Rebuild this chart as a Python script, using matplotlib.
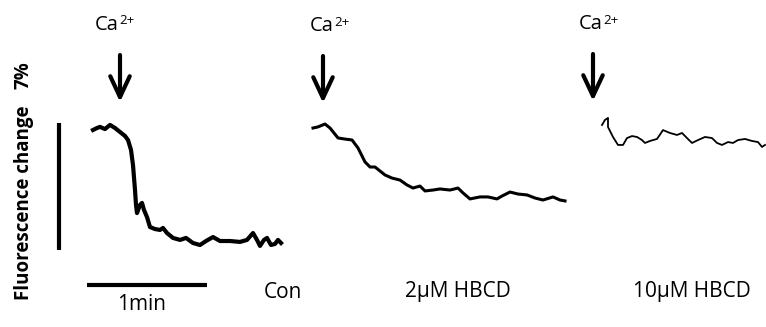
import matplotlib
matplotlib.use("Agg")
import matplotlib.pyplot as plt

plt.rcParams['font.family'] = ['Open Sans', 'DejaVu Sans']

# traces: time (s) relative to Ca2+ addition, fluorescence change (%) relative to first point
con_t = [-13.5, -11.5, -10, -7.5, -5, -2.5, 0, 2.5, 4, 5.5, 6.5, 7.5, 8, 8.5, 10, 11, 12,
         13.5, 15, 17.5, 20, 21.5, 23.5, 26.5, 30, 33, 36.5, 40, 43, 46.5, 50, 55, 60,
         63.5, 66.5, 68.5, 70, 72, 73.5, 75.5, 77.5, 79, 80.5]
con_f = [-0.11, 0.0, 0.06, -0.06, 0.17, 0.0, -0.22, -0.44, -0.66, -1.21, -2.04, -3.42,
         -4.24, -4.69, -4.24, -4.13, -4.52, -4.91, -5.46, -5.57, -5.62, -5.51, -5.79,
         -6.06, -6.17, -6.06, -6.34, -6.45, -6.23, -6.01, -6.23, -6.23, -6.28, -6.17,
         -5.79, -6.17, -6.50, -6.17, -6.06, -6.45, -6.39, -6.17, -6.34]

hb2_t = [-5, -2.5, 1, 3.5, 7.5, 11, 14.5, 17.5, 21, 23.5, 26, 31, 34.5, 38.5, 42, 45,
         48.5, 51, 55, 58.5, 63.5, 67.5, 70, 73.5, 78.5, 82.5, 87, 89.5, 93.5,
         97.5, 102, 106, 110, 115, 118.5, 121]
hb2_f = [0.0, 0.06, 0.22, 0.0, -0.55, -0.61, -0.66, -1.10, -1.87, -2.15, -2.15, -2.59,
         -2.76, -2.87, -3.14, -3.31, -3.20, -3.47, -3.42, -3.36, -3.42, -3.31,
         -3.58, -3.91, -3.80, -3.80, -3.91, -3.75, -3.53, -3.64, -3.69, -3.86, -3.97,
         -3.80, -3.97, -4.02]

hb10_t = [4.5, 6, 7.5, 7.5, 10, 12.5, 15, 17, 19.5, 22, 24.5, 26, 28.5, 32, 35, 38.5,
          42, 44.5, 47, 49.5, 52.5, 56, 59.5, 62, 64.5, 67.5, 70, 72.5, 76, 79.5, 82.5,
          84.5, 86]
hb10_f = [0.0, 0.28, 0.39, -0.11, -0.66, -1.10, -1.10, -0.72, -0.61, -0.66, -0.83, -0.99,
          -0.88, -0.77, -0.28, -0.44, -0.55, -0.44, -0.72, -0.99, -0.83, -0.66, -0.72,
          -0.99, -1.10, -0.94, -0.99, -0.83, -0.77, -0.88, -0.94, -1.21, -1.10]

labels = ['Con', '2\u00b5M HBCD', '10\u00b5M HBCD']

PX_S = 2.0      # pixels per second
PX_PCT = 18.14  # pixels per percent
W, H = 766, 327

fig = plt.figure(figsize=(W / 100, H / 100), dpi=100)
ax = fig.add_axes([0, 0, 1, 1])
ax.set_xlim(0, W / PX_S)
ax.set_ylim(0, H / PX_PCT)
ax.axis('off')

def sx(px):
    return px / PX_S

def sy(py):
    return (H - py) / PX_PCT

# panel layout: arrow x, trace ref y, line width, label x, Ca text split x, Ca text y (px)
panels = [
    (con_t, con_f, 120, 128, 3.0, 283, 119, 25),
    (hb2_t, hb2_f, 323, 128, 2.2, 458, 334, 26),
    (hb10_t, hb10_f, 593, 125, 1.3, 692, 603, 24),
]

for (t, f, ax_px, ref_px, lw, lab_x, ca_x, ca_y), lab in zip(panels, labels):
    xs = [sx(ax_px) + v for v in t]
    ys = [sy(ref_px) + v for v in f]
    ax.plot(xs, ys, color='black', lw=lw, solid_joinstyle='round')
    fig.text(ca_x / W, 1 - ca_y / H, 'Ca', ha='right', va='center', fontsize=14.5)
    fig.text((ca_x + 0.5) / W, 1 - (ca_y - 4) / H, '2+', ha='left', va='center',
             fontsize=9.5)
    ax.annotate('', xy=(sx(ax_px), sy(ca_y + 77)), xytext=(sx(ax_px), sy(ca_y + 30)),
                arrowprops=dict(arrowstyle='->,head_width=0.7,head_length=1.5',
                                color='black', lw=3, shrinkA=0, shrinkB=0))
    fig.text(lab_x / W, 1 - 292 / H, lab, ha='center', va='center', fontsize=15)

# scale bars: 1 min and 7 %
ax.plot([sx(87), sx(87) + 60], [sy(285), sy(285)], color='black', lw=3,
        solid_capstyle='butt')
ax.plot([sx(59), sx(59)], [sy(250), sy(250) + 7], color='black', lw=3,
        solid_capstyle='butt')
fig.text(142 / W, 1 - 304 / H, '1min', ha='center', va='center', fontsize=15)
fig.text(24 / W, 1 - 203 / H, 'Fluorescence change', rotation=90, ha='center',
         va='center', fontsize=13.5, fontweight='bold')
fig.text(24 / W, 1 - 75 / H, '7%', rotation=90, ha='center',
         va='center', fontsize=13.5, fontweight='bold')

fig.savefig('out.png', dpi=100)
